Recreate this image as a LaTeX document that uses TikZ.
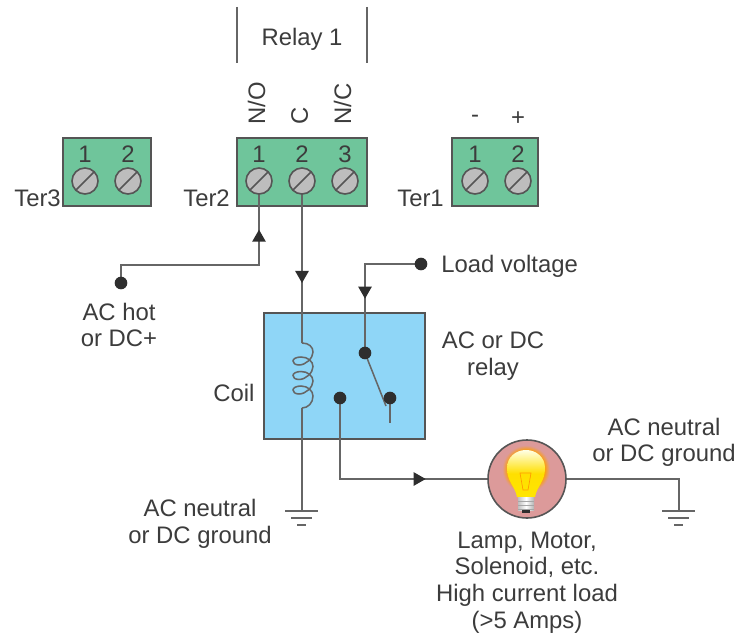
\documentclass[tikz,border=0pt]{standalone}
\usepackage{fontspec}
\setmainfont{Liberation Sans}
\usetikzlibrary{arrows.meta,decorations.markings,shadings,calc}
\pgfdeclarelayer{boxes}
\pgfdeclarelayer{wires}
\pgfsetlayers{boxes,wires,main}
\definecolor{wirec}{HTML}{666666}
\definecolor{edgec}{HTML}{555555}
\definecolor{textc}{HTML}{3C3C3C}
\definecolor{dotc}{HTML}{2E2E2E}
\definecolor{termg}{HTML}{6FC59B}
\definecolor{relayb}{HTML}{8FD6F7}
\definecolor{lampp}{HTML}{DC9A9A}
\definecolor{screwg}{HTML}{BDBDBD}
\pgfdeclareradialshading{glowshade}{\pgfpointorigin}{
  color(0bp)=(yellow!90!white); color(13bp)=(yellow!80!orange); color(17bp)=(orange!75!yellow); color(22bp)=(lampp); color(50bp)=(lampp)}
\tikzset{
  x=0.75pt,y=-0.75pt,
  lab/.style={font=\fontsize{17.9pt}{20pt}\selectfont,text=textc,inner sep=0pt,align=center,yshift=-1.8pt},
  wire/.style={draw=wirec,line width=1.15pt},
  term/.style={draw=edgec,fill=termg,line width=1.2pt,minimum height=51pt,inner sep=0pt},
  screw/.style={circle,draw=edgec,fill=screwg,line width=1.2pt,minimum size=19.5pt,inner sep=0pt,
    path picture={\draw[edgec,line width=1.1pt] (path picture bounding box.south west)++(3pt,3pt) -- ($(path picture bounding box.north east)+(-3pt,-3pt)$);}},
  dot/.style={circle,fill=dotc,minimum size=9.5pt,inner sep=0pt},
  arrowat/.style={postaction={decorate},decoration={markings,mark=at position #1 with {\arrow[dotc]{Triangle[length=9pt,width=10pt]}}}},
}
\newcommand{\gndsym}[1]{%
  \draw[wire] ($(#1)+(-17,0)$) -- ($(#1)+(16,0)$);
  \draw[wire] ($(#1)+(-11,7)$) -- ($(#1)+(10,7)$);
  \draw[wire] ($(#1)+(-5,14)$) -- ($(#1)+(4,14)$);}
\begin{document}
\begin{tikzpicture}
\useasboundingbox (0,0) rectangle (749,634);

% terminal blocks
\begin{pgfonlayer}{boxes}
\fill[white] (0,0) rectangle (749,634);
\node[term,minimum width=66pt] (ter3) at (107,172) {};
\node[term,minimum width=97.5pt] (ter2) at (302,172) {};
\node[term,minimum width=64.5pt] (ter1) at (495,172) {};
\node[draw=edgec,fill=relayb,line width=1.2pt,minimum width=120.5pt,minimum height=94.5pt,inner sep=0pt] (relay) at (344.5,376) {};
\end{pgfonlayer}

% screws
\node[screw] (s31) at (85,181) {};
\node[screw] (s32) at (128,181) {};
\node[screw] (s21) at (259,181) {};
\node[screw] (s22) at (302,181) {};
\node[screw] (s23) at (345,181) {};
\node[screw] (s11) at (475,181) {};
\node[screw] (s12) at (518,181) {};

% numbers
\foreach \n/\p/\t in {n31/85/1,n32/128/2,n21/259/1,n22/302/2,n23/345/3,n11/475/1,n12/518/2}
  \node[lab] (\n) at (\p,152) {\t};

% relay bracket
\coordinate (br1a) at (237,7); \coordinate (br1b) at (237,63);
\coordinate (br2a) at (367,7); \coordinate (br2b) at (367,63);
\draw[wire] (br1a) -- (br1b);
\draw[wire] (br2a) -- (br2b);
\node[lab] (relaytitle) at (302,37) {Relay 1};

% pin labels
\node[lab,rotate=90,anchor=west,yshift=1.8pt,xshift=2pt] (no) at (259,125) {N/O};
\node[lab,rotate=90,anchor=west,yshift=1.8pt,xshift=2pt] (c) at (302,125) {C};
\node[lab,rotate=90,anchor=west,yshift=1.8pt,xshift=2pt] (nc) at (345,125) {N/C};
\node[lab] (minus) at (475,116) {-};
\node[lab] (plus) at (518,116) {+};

% terminal names
\node[lab,anchor=east] (ter3l) at (61,196) {Ter3};
\node[lab,anchor=east] (ter2l) at (230,196) {Ter2};
\node[lab,anchor=east] (ter1l) at (444,196) {Ter1};

% dots
\node[dot] (hot) at (121,283) {};
\node[dot] (load) at (421,264) {};
\node[dot] (comm) at (365,353) {};
\node[dot] (nc2) at (390,398) {};
\node[dot] (nop) at (340,398) {};

% coordinates
\coordinate (k1) at (259,265);
\coordinate (k2) at (365,264);
\coordinate (k3) at (340,479);
\coordinate (coiltop) at (302,343);
\coordinate (coilbot) at (302,408);
\coordinate (gnd1) at (302,511);
\coordinate (gnd2) at (679,511);
\coordinate (k4) at (679,479);
\coordinate (swend) at (386,406);
\coordinate (ncend) at (390,423);

% lamp
\node[circle,draw=edgec,fill=lampp,line width=1.2pt,minimum size=58.5pt,inner sep=0pt] (lamp) at (527,479) {};

\begin{pgfonlayer}{wires}
\draw[wire,arrowat=143.5pt] (hot.center) |- (k1) -- (s21.center);
\draw[wire,arrowat=76.5pt] (s22.center) -- (coiltop);
\draw[wire,arrowat=68pt] (load.center) -- (k2) -- (comm.center);
\draw[wire,arrowat=125pt] (nop.center) -- (k3) -- (lamp.center);
\draw[wire] (lamp.center) -- (k4) -- (gnd2);
\draw[wire] (coilbot) -- (gnd1);
\draw[wire] (nc2.center) -- (ncend);
\draw[wire] (comm.center) -- (swend);
\draw[wire] (coiltop)
  .. controls (309,343) and (313,347) .. (313,352)
  .. controls (313,358) and (306,365) .. (299,365)
  .. controls (295,365) and (293,363) .. (293,361)
  .. controls (293,359) and (296,357) .. (301,357)
  .. controls (308,357) and (313,361.5) .. (313,366.5)
  .. controls (313,372.5) and (306,379.5) .. (299,379.5)
  .. controls (295,379.5) and (293,377.5) .. (293,375.5)
  .. controls (293,373.5) and (296,371.5) .. (301,371.5)
  .. controls (308,371.5) and (313,376) .. (313,381)
  .. controls (313,387) and (306,394) .. (299,394)
  .. controls (295,394) and (293,392) .. (293,390)
  .. controls (293,388) and (296,386) .. (301,386)
  .. controls (308,386) and (313,391) .. (313,396)
  .. controls (313,403) and (308,408) .. (coilbot);
\gndsym{gnd1}
\gndsym{gnd2}
\end{pgfonlayer}

% bulb
\begin{scope}
\clip (lamp.center) circle (38.5);
\shade[shading=glowshade] (526,469) circle (27);
\shade[top color=yellow!10!white,bottom color=yellow!80!orange,middle color=yellow!75!orange]
  (517,497) .. controls (515,486) and (507,482) .. (507,468)
  .. controls (507,457) and (516,450) .. (526,450)
  .. controls (536,450) and (545,457) .. (545,468)
  .. controls (545,482) and (537,486) .. (535,497) -- cycle;
\draw[orange!80!yellow,line width=0.5pt] (520,473) -- (531,473) -- (528,490) -- (523,490) -- cycle;
\shade[left color=gray!50,right color=gray!60,middle color=white] (518,497) rectangle (534,510);
\foreach \yy in {501,505,509} \draw[gray!70,line width=0.5pt] (518,\yy) -- (534,\yy);
\fill[dotc] (522,510) rectangle (530,512.5);
\end{scope}

% text labels
\node[lab,anchor=west] (loadl) at (441,264) {Load voltage};
\node[lab] (hotl) at (119,322.5) {AC hot\\or DC+};
\node[lab] (coill) at (234,391) {Coil};
\node[lab] (relayl) at (493,353.5) {AC or DC\\relay};
\node[lab] (gl1) at (200,521.5) {AC neutral\\or DC ground};
\node[lab] (gl2) at (664,440) {AC neutral\\or DC ground};
\node[lab] (lampl) at (527,580) {Lamp, Motor,\\Solenoid, etc.\\High current load\\(>5 Amps)};
\end{tikzpicture}
\end{document}
